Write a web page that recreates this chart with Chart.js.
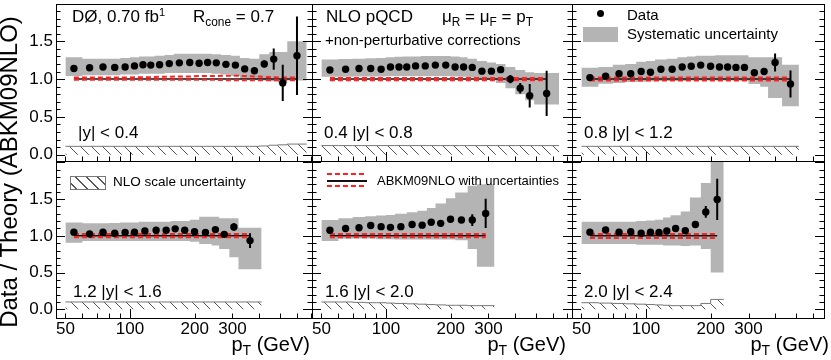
<!DOCTYPE html>
<html>
<head>
<meta charset="utf-8">
<title>Data / Theory (ABKM09NLO)</title>
<script src="https://cdn.jsdelivr.net/npm/chart.js@4.4.1/dist/chart.umd.min.js"></script>
<style>
  html, body { margin: 0; padding: 0; background: #fff; }
  #fig { position: relative; width: 831px; height: 360px; overflow: hidden;
         font-family: "Liberation Sans", Arial, Helvetica, sans-serif; color: #000; }
  #fig canvas { position: absolute; left: 0; top: 0; }
  .t { position: absolute; white-space: nowrap; line-height: 1; font-size: 17px; }
  .sub { font-size: 0.7em; position: relative; top: 0.3em; }
  .sup { font-size: 0.65em; position: relative; top: -0.55em; }
  .ytitle { left: -171px; top: 160px; width: 360px; text-align: center; font-size: 24px; transform: rotate(-90deg); }
  .xtitle { font-size: 20px; top: 334px; }
  .sym { position: absolute; }
</style>
</head>
<body>
<div id="fig">
  <canvas id="p0" width="831" height="360"></canvas>
  <canvas id="p1" width="831" height="360"></canvas>
  <canvas id="p2" width="831" height="360"></canvas>
  <canvas id="p3" width="831" height="360"></canvas>
  <canvas id="p4" width="831" height="360"></canvas>
  <canvas id="p5" width="831" height="360"></canvas>

  <div class="t ytitle">Data / Theory (ABKM09NLO)</div>
  <div class="t xtitle" style="right:521px">p<span class="sub">T</span> (GeV)</div>
  <div class="t xtitle" style="right:265px">p<span class="sub">T</span> (GeV)</div>
  <div class="t xtitle" style="right:2px">p<span class="sub">T</span> (GeV)</div>

  <div class="t" style="left:72px;top:8px">DØ, 0.70 fb<span class="sup">1</span></div>
  <div class="t" style="left:193px;top:8px">R<span class="sub">cone</span> = 0.7</div>
  <div class="t" style="left:326px;top:8px">NLO pQCD</div>
  <div class="t" style="left:442px;top:8px">μ<span class="sub">R</span> = μ<span class="sub">F</span> = p<span class="sub">T</span></div>
  <div class="t" style="left:325px;top:32px;font-size:15px">+non-perturbative corrections</div>

  <div class="sym" style="left:597px;top:10px;width:7px;height:7px;border-radius:50%;background:#000"></div>
  <div class="t" style="left:627px;top:7px;font-size:15px">Data</div>
  <div class="sym" style="left:583px;top:27px;width:35px;height:15px;background:#b4b4b4"></div>
  <div class="t" style="left:627px;top:26px;font-size:15px">Systematic uncertainty</div>

  <div class="sym" style="left:70px;top:176px;width:34px;height:12px;border:1px solid #777;background:repeating-linear-gradient(45deg, transparent 0 3.4px, #555 3.4px 4.4px, transparent 4.4px 7.8px)"></div>
  <div class="t" style="left:113px;top:175px;font-size:13.5px">NLO scale uncertainty</div>

  <div class="sym" style="left:327px;top:173px;width:40px;height:2px;background:repeating-linear-gradient(90deg, #f22 0 5px, transparent 5px 8px)"></div>
  <div class="sym" style="left:327px;top:180px;width:40px;height:1.5px;background:#111"></div>
  <div class="sym" style="left:327px;top:185px;width:40px;height:2px;background:repeating-linear-gradient(90deg, #f22 0 5px, transparent 5px 8px)"></div>
  <div class="t" style="left:377px;top:174px;font-size:13px">ABKM09NLO with uncertainties</div>
</div>

<script>
// rapidity regions, one panel each
const rapidityBins = ["|y| < 0.4", "0.4 |y| < 0.8", "0.8 |y| < 1.2",
                      "1.2 |y| < 1.6", "1.6 |y| < 2.0", "2.0 |y| < 2.4"];

// pT bin edges (GeV)
const binEdges = [
  [50,60,70,80,90,100,110,120,130,145,160,180,200,220,240,265,295,325,360,400,445,490,540,665],
  [50,60,70,80,90,100,110,120,130,145,160,180,200,220,240,265,295,325,360,400,445,490,640],
  [50,60,70,80,90,100,110,125,140,155,170,190,210,230,250,275,300,340,370,430,515],
  [50,60,70,80,90,100,110,125,140,155,170,190,210,240,260,290,320,410],
  [50,60,70,80,90,100,110,125,140,155,170,190,210,240,265,320],
  [50,60,70,80,90,100,110,120,130,145,160,180,200,230]
];

// data / theory
const ratio = [
  [1.14,1.15,1.16,1.155,1.16,1.175,1.19,1.185,1.19,1.205,1.215,1.22,1.21,1.22,1.215,1.195,1.185,1.135,1.11,1.20,1.265,0.95,1.31],
  [1.12,1.13,1.14,1.14,1.13,1.16,1.16,1.16,1.175,1.175,1.185,1.185,1.16,1.16,1.155,1.105,1.105,1.125,1.0,0.88,0.78,0.81],
  [1.02,1.04,1.07,1.07,1.10,1.09,1.13,1.13,1.16,1.17,1.185,1.17,1.16,1.16,1.155,1.155,1.085,1.10,1.22,0.935],
  [1.05,1.025,1.05,1.035,1.045,1.05,1.065,1.075,1.075,1.095,1.075,1.055,1.045,1.085,1.02,1.12,0.935],
  [1.075,1.10,1.11,1.14,1.125,1.115,1.125,1.155,1.145,1.185,1.17,1.225,1.215,1.215,1.305],
  [1.05,1.08,1.05,1.055,1.035,1.05,1.045,1.065,1.10,1.07,1.155,1.325,1.495]
];

// statistical uncertainty
const statErr = [
  [0,0,0,0,0,0,0,0,0,0,0,0,0,0,0,0,0,0,0.02,0.045,0.14,0.24,0.52],
  [0,0,0,0,0,0,0,0,0,0,0,0,0,0,0,0,0,0.02,0.055,0.07,0.155,0.3],
  [0,0,0,0,0,0,0,0,0,0,0,0,0,0,0,0,0.01,0.035,0.12,0.18],
  [0,0,0,0,0,0,0,0,0,0,0,0,0,0,0.01,0.05,0.1],
  [0,0,0,0,0,0,0,0,0,0,0,0,0,0.08,0.2],
  [0,0,0,0,0,0,0,0,0,0.03,0.01,0.08,0.28]
];

// systematic uncertainty band
const sysLow = [
  [1.04,1.05,1.05,1.05,1.06,1.06,1.07,1.07,1.07,1.08,1.08,1.08,1.08,1.08,1.07,1.06,1.04,1.00,0.99,0.98,0.97,0.95,0.98],
  [1.03,1.03,1.035,1.035,1.035,1.04,1.04,1.04,1.04,1.04,1.04,1.04,1.035,1.03,1.02,1.01,0.99,0.95,0.88,0.80,0.72,0.665],
  [0.90,0.94,0.95,0.96,0.965,0.97,0.975,0.975,0.975,0.98,0.98,0.98,0.98,0.98,0.98,0.975,0.935,0.90,0.75,0.64],
  [0.905,0.93,0.93,0.93,0.93,0.93,0.93,0.93,0.93,0.93,0.93,0.92,0.89,0.87,0.82,0.71,0.545],
  [0.93,0.96,0.965,0.965,0.955,0.955,0.95,0.95,0.95,0.95,0.95,0.95,0.94,0.82,0.58],
  [0.89,0.89,0.89,0.89,0.88,0.88,0.88,0.87,0.87,0.86,0.87,0.82,0.50]
];
const sysHigh = [
  [1.29,1.27,1.27,1.27,1.28,1.29,1.30,1.30,1.31,1.32,1.335,1.335,1.335,1.335,1.33,1.32,1.31,1.28,1.27,1.33,1.36,1.36,1.50],
  [1.26,1.265,1.27,1.275,1.28,1.29,1.295,1.30,1.30,1.305,1.305,1.305,1.30,1.29,1.27,1.24,1.22,1.20,1.16,1.12,1.09,1.08],
  [1.15,1.16,1.19,1.20,1.23,1.24,1.26,1.27,1.29,1.30,1.31,1.31,1.315,1.315,1.315,1.315,1.29,1.29,1.29,1.19],
  [1.18,1.17,1.17,1.175,1.18,1.18,1.19,1.19,1.19,1.20,1.20,1.22,1.26,1.26,1.24,1.24,1.11],
  [1.215,1.24,1.255,1.265,1.275,1.285,1.30,1.32,1.34,1.38,1.44,1.51,1.59,1.68,1.70],
  [1.19,1.19,1.19,1.19,1.20,1.21,1.22,1.25,1.28,1.33,1.52,1.72,2.30]
];

// ABKM09NLO PDF uncertainty (relative to central)
const pdfUp = [
  [1.02,1.02,1.02,1.02,1.02,1.025,1.025,1.025,1.03,1.03,1.035,1.035,1.04,1.04,1.04,1.045,1.045,1.04,1.035,1.03,1.025,1.02,1.02],
  [1.015,1.015,1.015,1.015,1.015,1.015,1.015,1.015,1.015,1.015,1.015,1.015,1.015,1.015,1.015,1.015,1.015,1.015,1.015,1.015,1.015,1.015],
  [1.02,1.02,1.02,1.02,1.02,1.02,1.02,1.02,1.02,1.02,1.02,1.02,1.02,1.02,1.02,1.02,1.02,1.02,1.02,1.02],
  [1.024,1.024,1.024,1.024,1.024,1.024,1.024,1.024,1.024,1.024,1.024,1.024,1.024,1.024,1.024,1.024,1.024],
  [1.025,1.025,1.025,1.025,1.025,1.025,1.025,1.025,1.025,1.025,1.025,1.025,1.025,1.025,1.025],
  [1.025,1.025,1.025,1.025,1.025,1.025,1.025,1.025,1.025,1.025,1.025,1.025,1.025]
];
const pdfDown = [
  [0.99,0.99,0.99,0.99,0.99,0.99,0.99,0.99,0.99,0.99,0.99,0.99,0.99,0.99,0.99,0.985,0.985,0.985,0.985,0.985,0.985,0.985,0.985],
  [0.985,0.985,0.985,0.985,0.985,0.985,0.985,0.985,0.985,0.985,0.985,0.985,0.985,0.985,0.985,0.985,0.985,0.985,0.985,0.985,0.985,0.985],
  [0.98,0.98,0.98,0.98,0.98,0.98,0.98,0.98,0.98,0.98,0.98,0.98,0.98,0.98,0.98,0.98,0.98,0.98,0.98,0.98],
  [0.98,0.98,0.98,0.98,0.98,0.98,0.98,0.98,0.98,0.98,0.98,0.98,0.98,0.98,0.98,0.98,0.98],
  [0.98,0.98,0.98,0.98,0.98,0.98,0.98,0.98,0.98,0.98,0.98,0.98,0.98,0.98,0.98],
  [0.97,0.97,0.97,0.97,0.97,0.97,0.97,0.97,0.97,0.97,0.97,0.97,0.97]
];

// NLO scale uncertainty (size of band drawn from zero)
const scaleUnc = [
  [0.11,0.11,0.11,0.11,0.11,0.11,0.11,0.11,0.11,0.11,0.11,0.11,0.11,0.11,0.11,0.11,0.11,0.11,0.11,0.115,0.125,0.13,0.14],
  [0.12,0.12,0.12,0.12,0.12,0.12,0.12,0.12,0.12,0.12,0.12,0.12,0.12,0.12,0.12,0.12,0.12,0.12,0.12,0.12,0.12,0.12],
  [0.11,0.11,0.11,0.11,0.11,0.11,0.11,0.11,0.11,0.11,0.11,0.11,0.11,0.11,0.11,0.11,0.11,0.11,0.11,0.11],
  [0.10,0.10,0.10,0.10,0.10,0.10,0.10,0.10,0.10,0.10,0.10,0.10,0.10,0.10,0.10,0.10,0.10],
  [0.10,0.10,0.095,0.09,0.09,0.085,0.08,0.075,0.07,0.065,0.06,0.055,0.055,0.05,0.05],
  [0.09,0.085,0.08,0.075,0.07,0.065,0.06,0.055,0.05,0.05,0.05,0.08,0.135]
];

const theoryRatio = 1.0;

// axis ticks
const xTickLabels = [50, 100, 200, 300];
const xTickMarks = [50, 60, 70, 80, 90, 100, 200, 300, 400, 500, 600, 700];
const yTickLabels = [0, 0.5, 1.0, 1.5];

// layout of the 3x2 grid (pixels)
const colLeft = [56, 312, 572], colRight = [312, 572, 824];
const rowTop = [1, 161], rowBottom = [161, 318];
const yRange = [[-0.084, 1.994], [-0.118, 2.018]];
const xMin = 45.2, xMax = [704, 735, 674];
const labelPos = [[78, 124], [324, 124], [584, 124], [73, 283], [325, 283], [584, 283]];

Chart.defaults.font.family = "'Liberation Sans', Arial, Helvetica, sans-serif";
Chart.defaults.font.size = 17;
Chart.defaults.color = "#000";

const fig = document.getElementById("fig");
rapidityBins.forEach((txt, i) => {
  const d = document.createElement("div");
  d.className = "t";
  d.style.left = labelPos[i][0] + "px";
  d.style.top = labelPos[i][1] + "px";
  d.textContent = txt;
  fig.appendChild(d);
});

// frame with inward ticks, ROOT style
const frameTicks = {
  id: "frameTicks",
  afterDatasetsDraw(chart) {
    const { ctx, chartArea: a, scales: { x, y } } = chart;
    ctx.save();
    ctx.strokeStyle = "#000";
    ctx.lineWidth = 1;
    ctx.beginPath();
    for (let k = Math.ceil(y.min * 10); k <= Math.floor(y.max * 10); k++) {
      const py = Math.round(y.getPixelForValue(k / 10)) + 0.5;
      if (py <= a.top + 1 || py >= a.bottom - 1) continue;
      const len = k % 5 === 0 ? 9 : 4.5;
      ctx.moveTo(a.left, py); ctx.lineTo(a.left + len, py);
      ctx.moveTo(a.right, py); ctx.lineTo(a.right - len, py);
    }
    xTickMarks.forEach((v) => {
      if (v <= x.min || v >= x.max) return;
      const px = Math.round(x.getPixelForValue(v)) + 0.5;
      const len = v === 100 ? 9 : 4.5;
      ctx.moveTo(px, a.bottom); ctx.lineTo(px, a.bottom - len);
    });
    ctx.stroke();
    ctx.strokeRect(a.left + 0.5, a.top + 0.5, a.right - a.left, a.bottom - a.top);
    ctx.restore();
  }
};

function centers(edges) {
  return edges.slice(0, -1).map((e, i) => Math.sqrt(e * edges[i + 1]));
}

// points at bin edges for a stepped line (value holds until next edge)
function stepPoints(edges, vals) {
  const pts = vals.map((v, i) => ({ x: edges[i], y: v }));
  pts.push({ x: edges[edges.length - 1], y: vals[vals.length - 1] });
  return pts;
}

function hatch(ctx) {
  const c = document.createElement("canvas");
  c.width = 11; c.height = 11;
  const g = c.getContext("2d");
  g.strokeStyle = "#555";
  g.lineWidth = 1;
  g.beginPath();
  g.moveTo(-1, -1); g.lineTo(12, 12);
  g.moveTo(-1, 10); g.lineTo(1, 12);
  g.moveTo(10, -1); g.lineTo(12, 1);
  g.stroke();
  return ctx.createPattern(c, "repeat");
}

binEdges.forEach((edges, i) => {
  const col = i % 3, row = Math.floor(i / 3);
  const mid = centers(edges);
  const ctx = document.getElementById("p" + i).getContext("2d");
  const leftAxis = col === 0 ? 56 : 0;
  const bottomAxis = row === 1 ? 42 : 0;

  const errBars = [];
  mid.forEach((c, k) => {
    if (statErr[i][k] > 0) {
      errBars.push({ x: c, y: ratio[i][k] - statErr[i][k] });
      errBars.push({ x: c, y: ratio[i][k] + statErr[i][k] });
      errBars.push({ x: c, y: null });
    }
  });

  new Chart(ctx, {
    type: "line",
    data: {
      datasets: [
        { // data points
          data: mid.map((c, k) => ({ x: c, y: ratio[i][k] })),
          showLine: false, pointRadius: 3.7, pointBackgroundColor: "#000",
          pointBorderWidth: 0, borderColor: "#000"
        },
        { // statistical error bars
          data: errBars, borderColor: "#000", borderWidth: 2, pointRadius: 0, spanGaps: false
        },
        { // PDF uncertainty, upper
          data: mid.map((c, k) => ({ x: c, y: pdfUp[i][k] })),
          borderColor: "#f22", borderWidth: 2, borderDash: [5, 3], pointRadius: 0
        },
        { // PDF uncertainty, lower
          data: mid.map((c, k) => ({ x: c, y: pdfDown[i][k] })),
          borderColor: "#f22", borderWidth: 2, borderDash: [5, 3], pointRadius: 0
        },
        { // theory
          data: [{ x: mid[0], y: theoryRatio }, { x: mid[mid.length - 1], y: theoryRatio }],
          borderColor: "#111", borderWidth: 1.5, pointRadius: 0
        },
        { // NLO scale uncertainty
          data: stepPoints(edges, scaleUnc[i]), stepped: true, fill: "origin",
          backgroundColor: hatch(ctx), borderColor: "#777", borderWidth: 1, pointRadius: 0
        },
        { // systematic band, upper edge
          data: stepPoints(edges, sysHigh[i]), stepped: true, fill: "+1",
          backgroundColor: "#b4b4b4", borderColor: "rgba(0,0,0,0)", borderWidth: 0, pointRadius: 0
        },
        { // systematic band, lower edge
          data: stepPoints(edges, sysLow[i]), stepped: true, fill: false,
          borderColor: "rgba(0,0,0,0)", borderWidth: 0, pointRadius: 0
        }
      ]
    },
    options: {
      responsive: false,
      animation: false,
      devicePixelRatio: 1,
      events: [],
      layout: {
        padding: {
          left: colLeft[col] - leftAxis,
          right: 831 - colRight[col],
          top: rowTop[row],
          bottom: 360 - rowBottom[row] - bottomAxis
        }
      },
      plugins: { legend: { display: false }, tooltip: { enabled: false } },
      scales: {
        x: {
          type: "logarithmic",
          min: xMin,
          max: xMax[col],
          display: row === 1,
          grid: { display: false, drawTicks: false },
          border: { display: false },
          ticks: {
            display: row === 1, autoSkip: false, maxRotation: 0, minRotation: 0, padding: 1,
            callback: (v) => String(v)
          },
          afterBuildTicks: (s) => { s.ticks = xTickLabels.map((v) => ({ value: v })); },
          afterFit: row === 1 ? (s) => { s.height = 42; s.paddingLeft = 0; s.paddingRight = 0; } : undefined
        },
        y: {
          type: "linear",
          min: yRange[row][0],
          max: yRange[row][1],
          display: col === 0,
          grid: { display: false, drawTicks: false },
          border: { display: false },
          ticks: { display: col === 0, padding: 3, callback: (v) => Number(v).toFixed(1) },
          afterBuildTicks: (s) => { s.ticks = yTickLabels.map((v) => ({ value: v })); },
          afterFit: col === 0 ? (s) => { s.width = 56; s.paddingTop = 0; s.paddingBottom = 0; } : undefined
        }
      }
    },
    plugins: [frameTicks]
  });
});
</script>
</body>
</html>
